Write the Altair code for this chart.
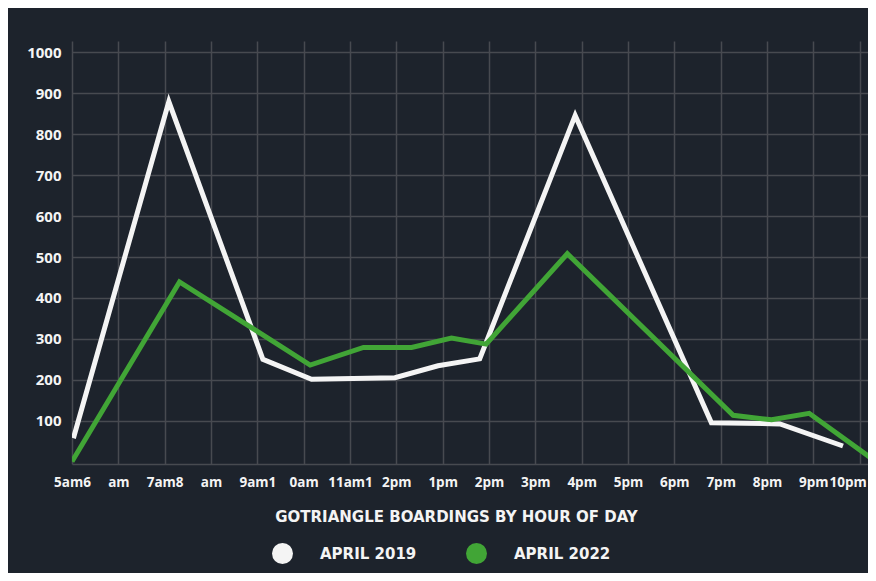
import altair as alt
import pandas as pd

# Data (hour of day as x position, boardings as y)
hours_2019 = [5.03, 7.09, 9.12, 10.17, 11.97, 12.9, 13.8, 15.86, 18.8, 20.28, 21.64]
vals_2019 = [57, 880, 250, 201, 205, 234, 251, 846, 95, 92, 38]

hours_2022 = [5.0, 7.32, 10.14, 11.29, 12.33, 13.19, 13.94, 15.69, 19.27, 20.1, 20.91, 22.35]
vals_2022 = [0, 439, 236, 279, 279, 302, 287, 508, 113, 102, 118, 0]

series_names = ["APRIL 2019", "APRIL 2022"]
series_colors = ["#f4f4f4", "#41a536"]

tick_hours = list(range(5, 23))
tick_labels = ["5am6", "am", "7am8", "am", "9am1", "0am", "11am1", "2pm", "1pm",
               "2pm", "3pm", "4pm", "5pm", "6pm", "7pm", "8pm", "9pm", "10pm"]
y_ticks = [100, 200, 300, 400, 500, 600, 700, 800, 900, 1000]

rows = []
for i, (h, v) in enumerate(zip(hours_2019, vals_2019)):
    rows.append({"series": series_names[0], "hour": h, "value": v, "order": i})
for i, (h, v) in enumerate(zip(hours_2022, vals_2022)):
    rows.append({"series": series_names[1], "hour": h, "value": v, "order": i})
df = pd.DataFrame(rows)

label_expr = "[" + ",".join(f"'{t}'" for t in tick_labels) + "][datum.value - 5]"

FONT = "Open Sans"
WIDE = "DejaVu Sans"
GRID = "#474a50"

x_enc = alt.X("hour:Q",
              scale=alt.Scale(domain=[5, 22.18], nice=False, zero=False),
              axis=alt.Axis(values=tick_hours, labelExpr=label_expr,
                            title="GOTRIANGLE BOARDINGS BY HOUR OF DAY",
                            grid=True, gridColor=GRID, gridWidth=1.5,
                            domain=True, domainColor=GRID, domainWidth=1.5,
                            ticks=False, tickSize=0,
                            labelFont=FONT, labelFontWeight="bold", labelFontSize=13.5,
                            labelColor="#f4f4f4", labelPadding=22, labelBaseline="alphabetic",
                            labelAlign="center",
                            labelOffset=alt.ExprRef(expr="datum.value >= 22 ? -12 : 0"),
                            labelFlush=False, labelOverlap=False,
                            titleFont=WIDE, titleFontWeight="bold", titleFontSize=15,
                            titleColor="#f4f4f4", titleX=384, titleY=57,
                            titleBaseline="alphabetic", titleAlign="center"))
y_enc = alt.Y("value:Q",
              scale=alt.Scale(domain=[-6, 1028], nice=False, zero=False),
              axis=alt.Axis(values=y_ticks, title=None, format="d",
                            grid=True, gridColor=GRID, gridWidth=1.5,
                            domain=False, ticks=False, tickSize=0,
                            labelFont=FONT, labelFontWeight="bold", labelFontSize=15,
                            labelColor="#f4f4f4", labelPadding=11))

base = alt.Chart(df)

lines = base.mark_line(strokeWidth=5, strokeJoin="miter", strokeCap="butt", clip=True).encode(
    x=x_enc, y=y_enc,
    stroke=alt.Stroke("series:N", scale=alt.Scale(domain=series_names, range=series_colors),
                      legend=None),
    order="order:Q",
)

legend_pts = base.mark_circle(opacity=0, size=10, clip=True).encode(
    x=x_enc, y=y_enc,
    fill=alt.Fill("series:N", scale=alt.Scale(domain=series_names, range=series_colors),
                  legend=alt.Legend(title=None, orient="none", direction="horizontal",
                                    legendX=200, legendY=502, padding=0,
                                    symbolType="circle", symbolSize=441,
                                    symbolStrokeWidth=0, symbolOpacity=1,
                                    labelFont=WIDE, labelFontWeight="bold", labelFontSize=15,
                                    labelColor="#f4f4f4", labelOffset=27,
                                    columnPadding=49)),
)

chart = alt.layer(lines, legend_pts).properties(
    width=796,
    height=423,
    padding={"left": 64, "top": 33, "right": 0, "bottom": 109},
    autosize=alt.AutoSizeParams(type="none"),
    background="#1d232c",
).resolve_scale(fill="independent", stroke="independent").configure_view(strokeWidth=0)

chart.save("out.html", embed_options={"renderer": "svg", "actions": False})
